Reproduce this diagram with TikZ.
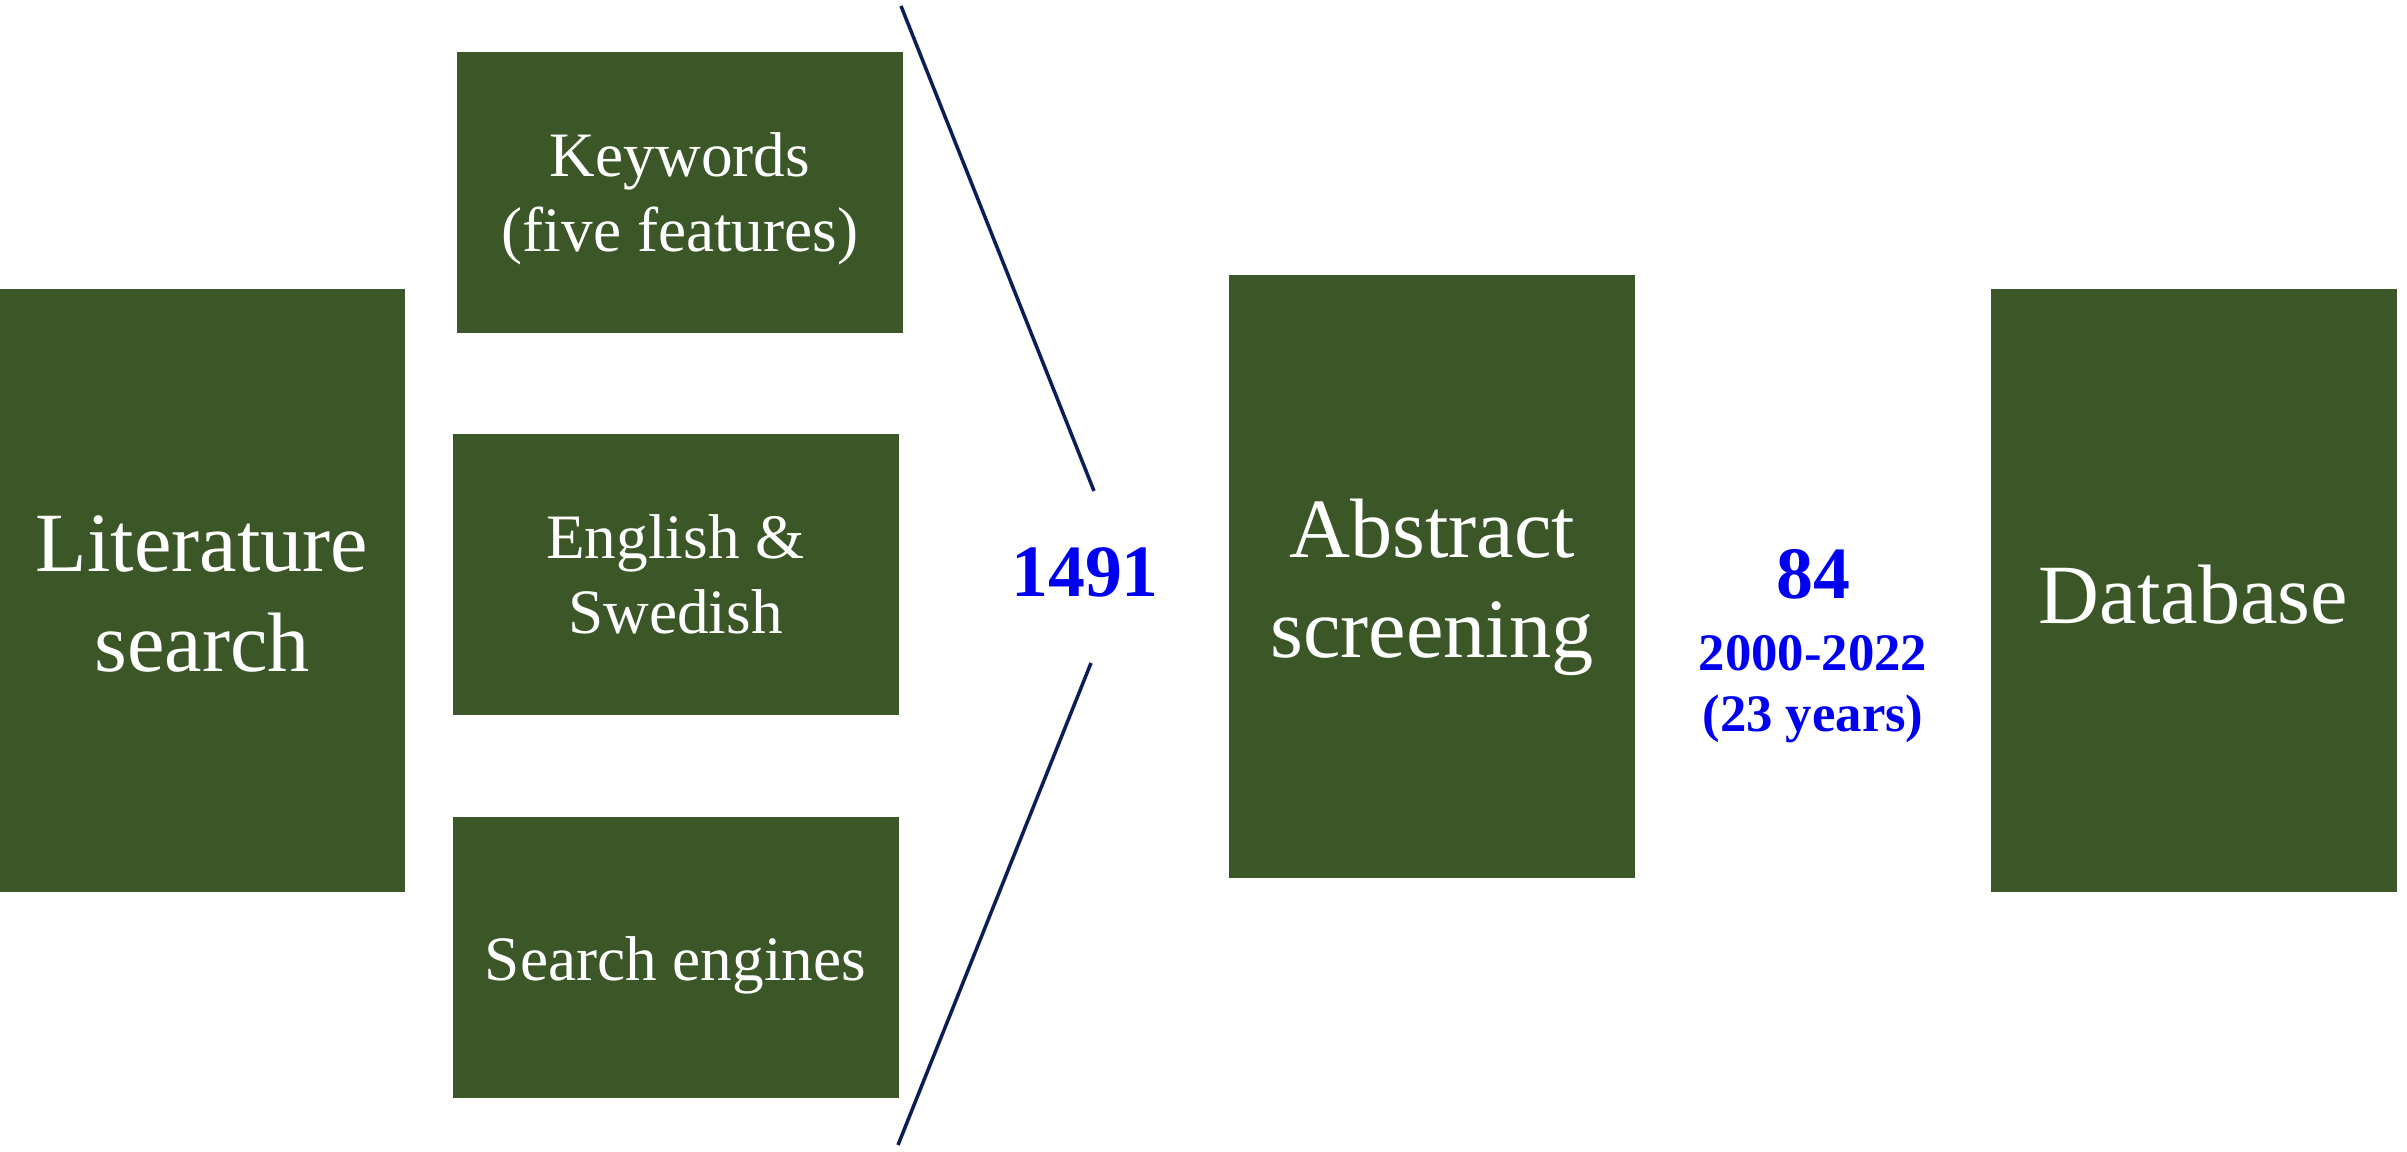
\documentclass[tikz,border=0pt]{standalone}
\usepackage{fontspec}
\setmainfont{Liberation Serif}
\definecolor{boxgreen}{RGB}{59,87,39}
\definecolor{countblue}{RGB}{0,0,240}
\definecolor{linenavy}{RGB}{12,30,90}

\begin{document}
\begin{tikzpicture}
  [
  line width=1pt,
  bigbox/.style={rectangle, fill=boxgreen, text=white, align=center, inner sep=0pt, minimum width=40.6mm, minimum height=60.3mm, font=\fontsize{24}{28.5}\selectfont,
    text height=52.2pt, text depth=6pt},
  smallbox/.style={rectangle, fill=boxgreen, text=white, align=center, inner sep=0pt, minimum width=44.6mm, minimum height=28.1mm, font=\fontsize{18}{21.3}\selectfont,
    text height=38.5pt, text depth=5pt},
  count/.style={text=countblue, inner sep=0pt, anchor=base, font=\fontsize{21}{25}\selectfont\bfseries},
  period/.style={text=countblue, inner sep=0pt, anchor=base, font=\fontsize{15}{18}\selectfont\bfseries},
  funnel/.style={draw=linenavy, line width=1pt}
  ]

\useasboundingbox (0,0) rectangle (24.07,11.52);

\node[bigbox] (lit) at (2.02,5.615) {Literature\\search};

\node[smallbox] (kw) at (6.80,9.595) {Keywords\\(five features)};
\node[smallbox] (lang) at (6.755,5.775) {English \&\\Swedish};
\node[smallbox, text height=17.2pt, text depth=4pt] (engines) at (6.755,1.945) {Search engines};

\node[count] (n1491) at (10.85,5.55) {1491};

\node[bigbox] (abs) at (14.32,5.755) {Abstract\\screening};

\node[count] (n84) at (18.13,5.53) {84};
\node[period] (span) at (18.13,4.81) {2000-2022};
\node[period] (years) at (18.13,4.20) {(23 years)};

\node[bigbox, text height=23.7pt, text depth=5pt] (db) at (21.935,5.615) {Database};

\coordinate (top) at (9.01,11.46);
\coordinate (topin) at (10.94,6.61);
\coordinate (botin) at (10.91,4.89);
\coordinate (bot) at (8.98,0.07);

\draw[funnel] (top) -- (topin);
\draw[funnel] (botin) -- (bot);
\end{tikzpicture}
\end{document}
